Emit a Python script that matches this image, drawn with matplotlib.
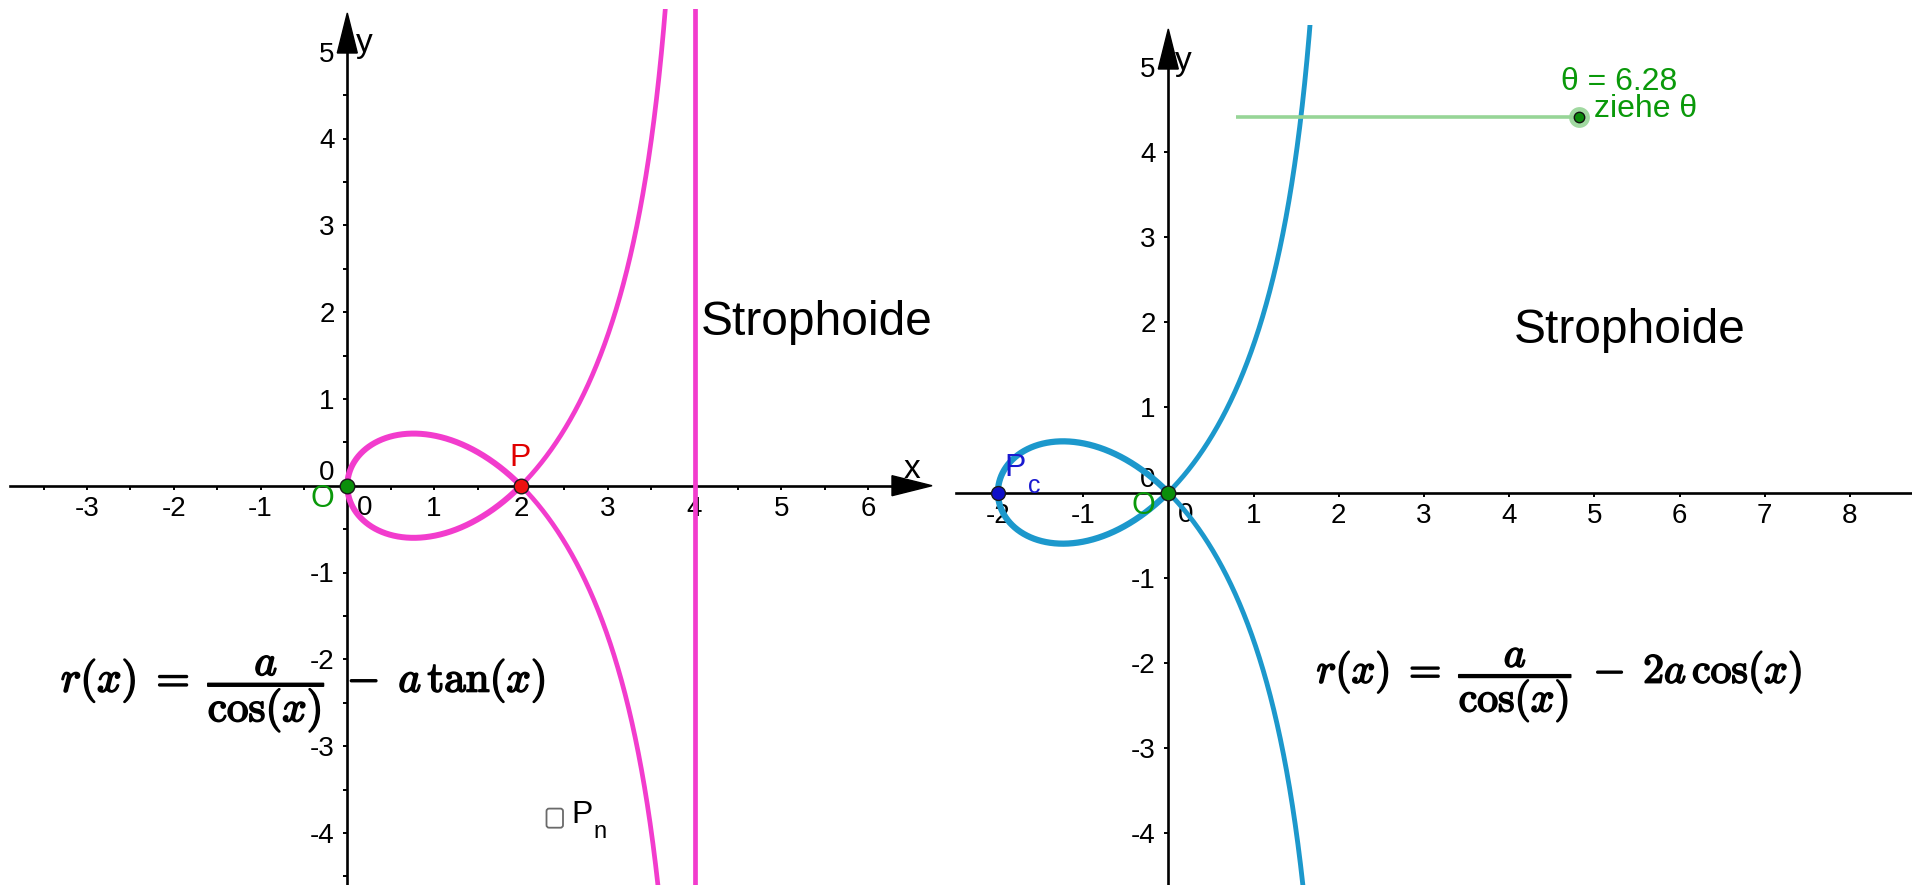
import numpy as np
import matplotlib
matplotlib.use("Agg")
import matplotlib.pyplot as plt
from matplotlib import patheffects as pe
from matplotlib.patches import Polygon, FancyBboxPatch
from matplotlib.ticker import FixedLocator, MultipleLocator, NullFormatter

plt.rcParams['font.family'] = ['Liberation Sans', 'DejaVu Sans']
plt.rcParams['mathtext.fontset'] = 'cm'
plt.rcParams['axes.unicode_minus'] = False

# ---- data -------------------------------------------------------------
a_left = 2.0          # r(x) = a/cos(x) - a tan(x)
a_right = 2.0         # r(x) = a/cos(x) - 2a cos(x)
asymptote_left = 4.0

left_xticks = [-3, -2, -1, 1, 2, 3, 4, 5, 6]
left_yticks = [-4, -3, -2, -1, 1, 2, 3, 4, 5]
right_xticks = [-2, -1, 1, 2, 3, 4, 5, 6, 7, 8]
right_yticks = [-4, -3, -2, -1, 1, 2, 3, 4, 5]

point_O = (0.0, 0.0)
point_P = (2.0, 0.0)
point_Pc = (-2.0, 0.0)

theta_min, theta_max, theta_value = 0.0, 6.28, 6.28

# ---- colours ----------------------------------------------------------
PINK = '#f23ccd'
BLUE = '#1c98cc'
GREEN = '#0a990a'
DOT_GREEN = '#0b8f0b'
SLIDER_GREEN = '#97d597'

W, H = 1912, 885
fig = plt.figure(figsize=(W / 100, H / 100), dpi=100)

TICK_FS = 20


def make_view(box, origin, unit):
    """Axes covering pixel box (left, top, right, bottom) with the given origin pixel and px/unit."""
    x0, y0, x1, y1 = box
    ox, oy = origin
    ax = fig.add_axes([x0 / W, 1 - y1 / H, (x1 - x0) / W, (y1 - y0) / H])
    ax.set_xlim((x0 - ox) / unit, (x1 - ox) / unit)
    ax.set_ylim((oy - y1) / unit, (oy - y0) / unit)
    ax.set_facecolor('none')
    for s in ('top', 'right'):
        ax.spines[s].set_visible(False)
    for s in ('left', 'bottom'):
        ax.spines[s].set_position(('data', 0))
        ax.spines[s].set_linewidth(1.9)
    ax.tick_params(which='both', direction='out', length=3.2, width=1.4,
                   labelsize=TICK_FS, pad=6, color='black')
    ax.tick_params(axis='x', pad=4.5)
    return ax


def axis_arrows(ax, unit, x_arrow=True, y_arrow=True, inset=3):
    L, w = 40 / unit, 10 / unit
    xmin, xmax = ax.get_xlim()
    ymin, ymax = ax.get_ylim()
    if x_arrow:
        xt = xmax - inset / unit
        ax.spines['bottom'].set_bounds(xmin, xt - L / 2)
        ax.add_patch(Polygon([[xt, 0], [xt - L, w], [xt - L, -w]], closed=True,
                             color='black', zorder=2.6, clip_on=False))
    if y_arrow:
        yt = ymax - (inset + 1) / unit
        ax.spines['left'].set_bounds(ymin, yt - L / 2)
        ax.add_patch(Polygon([[0, yt], [w, yt - L], [-w, yt - L]], closed=True,
                             color='black', zorder=2.6, clip_on=False))


def origin_labels(ax, color_O):
    ax.annotate('0', (0, 0), xytext=(-21, 12.5), textcoords='offset pixels',
                ha='center', va='center', fontsize=TICK_FS, zorder=1)
    ax.annotate('0', (0, 0), xytext=(17, -22), textcoords='offset pixels',
                ha='center', va='center', fontsize=TICK_FS, zorder=1)
    ax.annotate('O', (0, 0), xytext=(-25, -13), textcoords='offset pixels',
                ha='center', va='center', fontsize=22, color=color_O, zorder=6)


def dot(ax, p, face, size=10.5):
    ax.plot([p[0]], [p[1]], 'o', ms=size, mfc=face, mec='#1a1a1a', mew=1.0, zorder=7)


bold = [pe.withStroke(linewidth=1.2, foreground='black')]

# ======================= left view =====================================
uL = 86.8
axL = make_view((10, 9, 935, 885), (347.3, 485.7), uL)
axL.xaxis.set_major_locator(FixedLocator(left_xticks))
axL.yaxis.set_major_locator(FixedLocator(left_yticks))
axL.xaxis.set_minor_locator(MultipleLocator(0.5))
axL.yaxis.set_minor_locator(MultipleLocator(0.5))
axL.xaxis.set_minor_formatter(NullFormatter())
axL.yaxis.set_minor_formatter(NullFormatter())
axis_arrows(axL, uL)
axL.text(6.5, 0.19, 'x', fontsize=24, ha='center', va='center')
axL.text(0.2, 5.1, 'y', fontsize=24, ha='center', va='center')
origin_labels(axL, GREEN)


def r_left(t):
    return a_left / np.cos(t) - a_left * np.tan(t)


def polar_piece(rfun, t0, t1, n=4000, ylim=7.0):
    t = np.linspace(t0, t1, n)
    r = rfun(t)
    x, y = r * np.cos(t), r * np.sin(t)
    keep = np.abs(y) < ylim
    return x[keep], y[keep]


eps = 1e-4
# loop (between x = 0 and the node) and the two outer branches
xl, yl = polar_piece(r_left, 0.0, np.pi)
xb1, yb1 = polar_piece(r_left, -np.pi / 2 + eps, 0.0)
xb2, yb2 = polar_piece(r_left, np.pi, 1.5 * np.pi - eps)
axL.plot(xl, yl, color=PINK, lw=4.3, zorder=3, solid_capstyle='round')
axL.plot(xb1, yb1, color=PINK, lw=3.4, zorder=3)
axL.plot(xb2, yb2, color=PINK, lw=3.4, zorder=3)
axL.axvline(asymptote_left, color=PINK, lw=3.4, zorder=3)

dot(axL, point_O, DOT_GREEN)
dot(axL, point_P, '#ee1111')
axL.annotate('P', point_P, xytext=(-1, 28), textcoords='offset pixels',
             ha='center', va='center', fontsize=23, color='#e00000', zorder=6)

axL.text(4.07, 1.74, 'Strophoide', fontsize=34.5, ha='left', va='baseline', zorder=6)
axL.text(-3.30, -2.40, r'$r(x)\;=\;\dfrac{a}{\cos(x)}\;-\;a\,\tan(x)$',
         fontsize=31, ha='left', va='center', path_effects=bold, zorder=6)

# checkbox with label P_n
axL.add_patch(FancyBboxPatch((2.39 - 0.095, -3.83 - 0.11), 0.19, 0.22,
                             boxstyle='round,pad=0,rounding_size=0.03',
                             fc='white', ec='#6a6a6a', lw=1.3, zorder=6))
axL.text(2.585, -3.79, 'P', fontsize=23, ha='left', va='center', zorder=6)
axL.text(2.83, -3.985, 'n', fontsize=17, ha='left', va='center', zorder=6)

# ======================= right view ====================================
uR = 85.2
axR = make_view((956, 25, 1912, 885), (1168.3, 492.5), uR)
axR.xaxis.set_major_locator(FixedLocator(right_xticks))
axR.yaxis.set_major_locator(FixedLocator(right_yticks))
axis_arrows(axR, uR, x_arrow=False)
axR.text(0.18, 5.06, 'y', fontsize=24, ha='center', va='center')
origin_labels(axR, GREEN)


def r_right(t):
    return a_right / np.cos(t) - 2 * a_right * np.cos(t)


xr_loop, yr_loop = polar_piece(r_right, -np.pi / 4, np.pi / 4)
xr1, yr1 = polar_piece(r_right, np.pi / 4, np.pi / 2 - eps)
xr2, yr2 = polar_piece(r_right, -np.pi / 2 + eps, -np.pi / 4)
axR.plot(xr_loop, yr_loop, color=BLUE, lw=4.5, zorder=3)
axR.plot(xr1, yr1, color=BLUE, lw=3.5, zorder=3)
axR.plot(xr2, yr2, color=BLUE, lw=3.5, zorder=3)

dot(axR, point_O, DOT_GREEN)
dot(axR, point_Pc, '#1010c8', size=10)
axR.annotate('P', point_Pc, xytext=(17, 25), textcoords='offset pixels',
             ha='center', va='center', fontsize=23, color='#1a1ad0', zorder=6)
axR.annotate('c', point_Pc, xytext=(36, 7), textcoords='offset pixels',
             ha='center', va='center', fontsize=18, color='#1a1ad0', zorder=6)

axR.text(4.06, 1.755, 'Strophoide', fontsize=34.5, ha='left', va='baseline', zorder=6)
axR.text(1.74, -2.26, r'$r(x)\;=\;\dfrac{a}{\cos(x)}\;-\;2a\,\cos(x)$',
         fontsize=30, ha='left', va='center', path_effects=bold, zorder=6)

# slider for theta
slider_x0, slider_len, slider_y = 0.80, 4.02, 4.41
knob_x = slider_x0 + (theta_value - theta_min) / (theta_max - theta_min) * slider_len
axR.plot([slider_x0, slider_x0 + slider_len], [slider_y, slider_y],
         color=SLIDER_GREEN, lw=2.6, zorder=4, solid_capstyle='butt')
axR.plot([knob_x], [slider_y], 'o', ms=15, mfc=SLIDER_GREEN, mec='none', alpha=0.9, zorder=5)
axR.plot([knob_x], [slider_y], 'o', ms=7.5, mfc='#0a8a0a', mec='#111111', mew=1.0, zorder=6)
axR.annotate(f'θ = {theta_value:.2f}', (knob_x, slider_y), xytext=(-18, 35),
             textcoords='offset pixels', ha='left', va='center', fontsize=23,
             color=GREEN, zorder=6)
axR.annotate('ziehe θ', (knob_x, slider_y), xytext=(15, 8),
             textcoords='offset pixels', ha='left', va='center', fontsize=23,
             color=GREEN, zorder=6)

fig.savefig('out.png', dpi=100)
